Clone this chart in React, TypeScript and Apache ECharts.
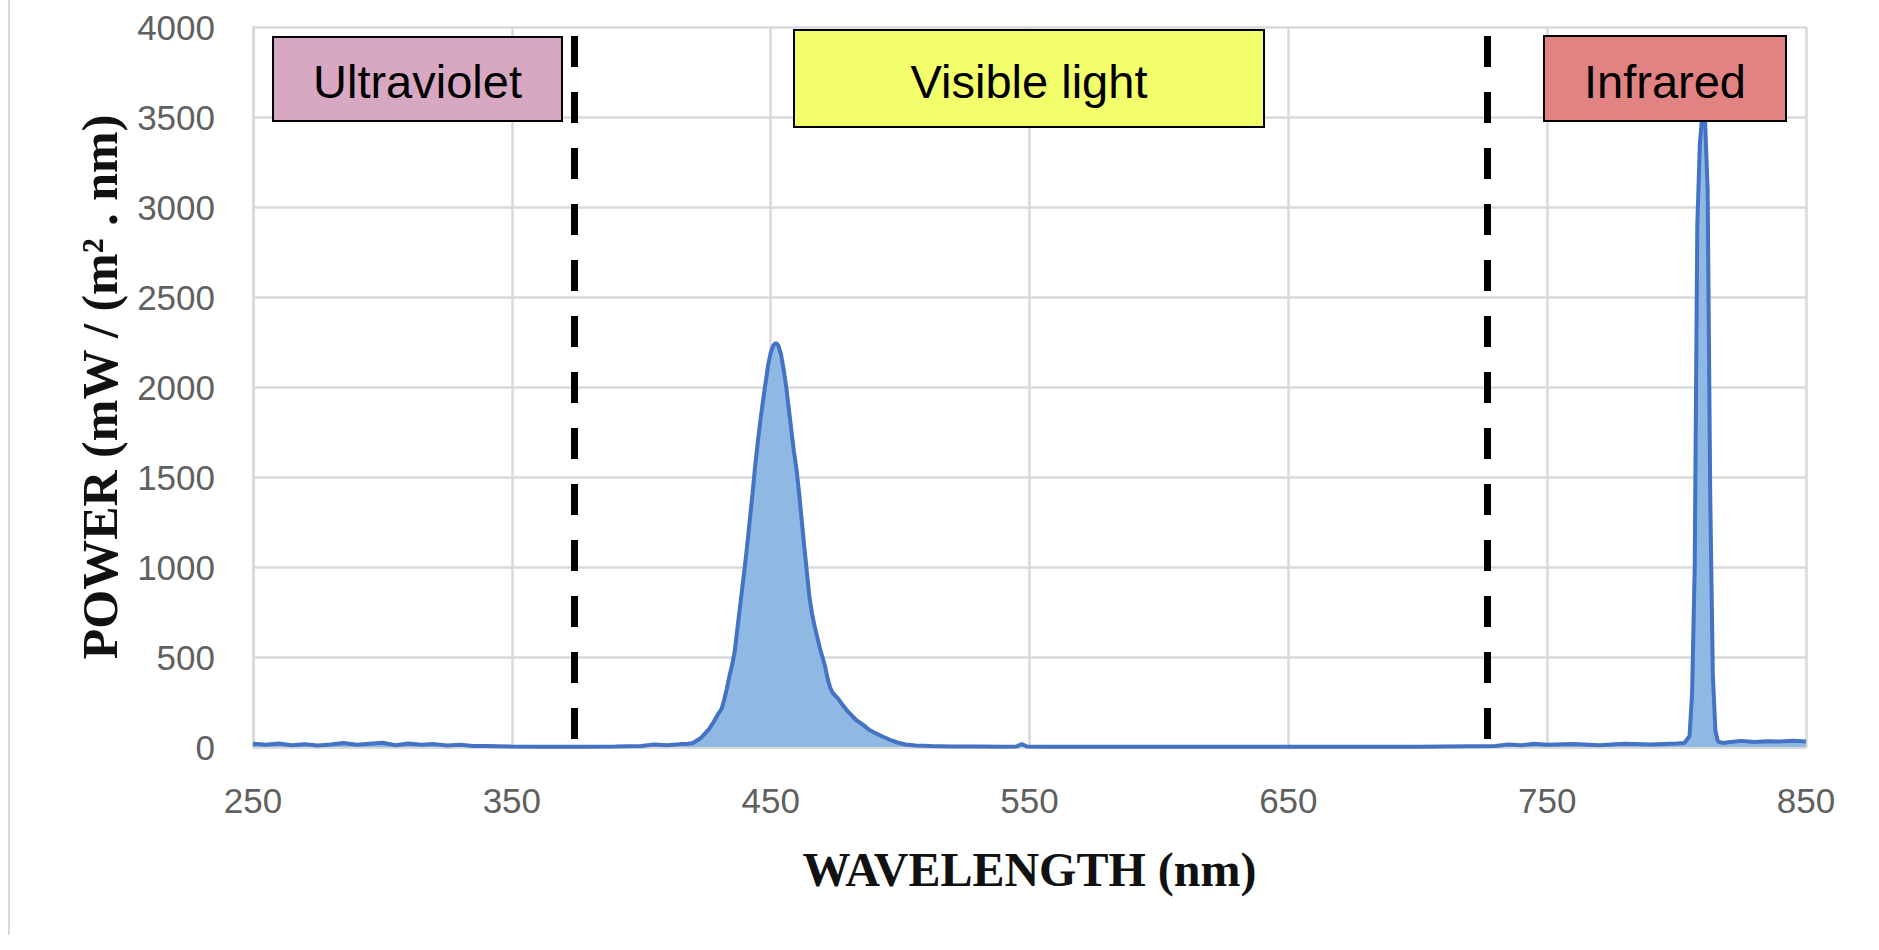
import React, { useEffect, useRef } from "react";
import * as echarts from "echarts";

// ---- data ----
const wavelengthNm = [
  250, 255, 260, 265, 270, 275, 280, 285, 290, 295,
  300, 305, 310, 315, 320, 325, 330, 335, 340, 350,
  360, 370, 380, 390, 400, 405, 410, 415, 418,
  420, 423, 426, 428, 430, 431, 432, 433, 434, 435,
  436, 437, 438, 439, 440, 441, 442, 443, 444, 445,
  446, 447, 448, 449, 450, 451, 452, 453, 454, 455,
  456, 457, 458, 459, 460, 461, 462, 463, 464, 465,
  466, 467, 468, 469, 470, 471, 472, 473, 474, 476,
  478, 480, 483, 486, 488, 490, 493, 496, 499, 502,
  506, 512, 520, 530, 540, 545, 547, 549, 555, 570,
  600, 650, 700, 730, 735, 740, 745, 750, 760, 770,
  780, 790, 800, 803, 805, 806, 807, 808, 809, 810,
  811, 812, 813, 814, 815, 816, 818, 820, 825, 830,
  835, 840, 845, 850,
];
const powerValues = [
  18, 12, 20, 10, 15, 8, 14, 22, 12, 18,
  24, 10, 20, 12, 16, 8, 12, 6, 5, 3,
  2, 2, 2, 3, 6, 14, 10, 16, 18,
  22, 50, 96, 140, 190, 210, 260, 320, 390, 450,
  520, 640, 760, 880, 1000, 1130, 1270, 1410, 1560, 1690,
  1810, 1920, 2020, 2120, 2190, 2230, 2245, 2230, 2180, 2100,
  2000, 1880, 1760, 1640, 1540, 1410, 1260, 1110, 970, 830,
  740, 670, 610, 550, 500, 450, 380, 330, 300, 270,
  230, 195, 150, 120, 96, 80, 60, 40, 25, 14,
  8, 5, 3, 3, 2, 3, 16, 3, 2, 2,
  2, 2, 2, 6, 14, 10, 18, 12, 16, 10,
  18, 14, 20, 22, 60, 300, 1000, 2900, 3350, 3530,
  3480, 3100, 1400, 400, 90, 30, 22, 26, 34, 28,
  32, 30, 35, 30,
];
const xTickRange = [250, 850, 100]; // min, max, step
const yTickRange = [0, 4000, 500]; // min, max, step
const regionBoundariesNm = [374, 727];
const regionLabels = ["Ultraviolet", "Visible light", "Infrared"];
const regionColors = ["#d8a7c1", "#f3fe6b", "#e28383"];
const xAxisTitle = "WAVELENGTH (nm)";
const yAxisTitle = "POWER (mW / (m\u00B2 . nm)";

// ---- layout (pixels) for the annotation boxes ----
const boxLayout = [
  { x: 273, y: 37, w: 289, h: 84 },
  { x: 794, y: 30, w: 470, h: 97 },
  { x: 1544, y: 36, w: 242, h: 85 },
];

export default function App() {
  const ref = useRef<HTMLDivElement | null>(null);

  useEffect(() => {
    if (!ref.current) return;
    const chart = echarts.init(ref.current, null, { renderer: "svg" });
    const seriesData = wavelengthNm.map((w, i) => [w, powerValues[i]]);
    const gridColor = "#d9d9d9";
    const labelFont = "'Liberation Sans', Arial, sans-serif";
    const titleFont = "'Liberation Serif', 'Times New Roman', serif";

    const graphics: any[] = [
      {
        type: "line",
        shape: { x1: 9, y1: 0, x2: 9, y2: 935 },
        style: { stroke: "#d9d9d9", lineWidth: 2 },
        z: 1,
      },
    ];
    boxLayout.forEach((b, i) => {
      graphics.push({
        type: "rect",
        shape: { x: b.x, y: b.y, width: b.w, height: b.h },
        style: { fill: regionColors[i], stroke: "#000", lineWidth: 2 },
        z: 100,
      });
      graphics.push({
        type: "text",
        x: b.x + b.w / 2,
        y: 81,
        style: {
          text: regionLabels[i],
          align: "center",
          verticalAlign: "middle",
          fill: "#000",
          fontSize: 47,
          fontFamily: labelFont,
        },
        z: 101,
      });
    });

    chart.setOption({
      animation: false,
      backgroundColor: "#ffffff",
      grid: { left: 253, right: 73, top: 27, bottom: 203, containLabel: false },
      xAxis: {
        type: "value",
        min: xTickRange[0],
        max: xTickRange[1],
        interval: xTickRange[2],
        name: xAxisTitle,
        nameLocation: "middle",
        nameGap: 98,
        nameTextStyle: {
          fontFamily: titleFont,
          fontWeight: "bold",
          fontSize: 48,
          color: "#111",
        },
        axisLine: { show: true, lineStyle: { color: gridColor, width: 2.5 } },
        axisTick: { show: false },
        splitLine: { show: true, lineStyle: { color: gridColor, width: 2.5 } },
        axisLabel: {
          fontSize: 35,
          color: "#606060",
          fontFamily: labelFont,
          margin: 36,
          formatter: (v: number) => String(v),
        },
      },
      yAxis: {
        type: "value",
        min: yTickRange[0],
        max: yTickRange[1],
        interval: yTickRange[2],
        name: yAxisTitle,
        nameLocation: "middle",
        nameGap: 128,
        nameTextStyle: {
          fontFamily: titleFont,
          fontWeight: "bold",
          fontSize: 50,
          color: "#111",
        },
        axisLine: { show: true, lineStyle: { color: gridColor, width: 2.5 } },
        axisTick: { show: false },
        splitLine: { show: true, lineStyle: { color: gridColor, width: 2.5 } },
        axisLabel: {
          fontSize: 35,
          color: "#606060",
          fontFamily: labelFont,
          margin: 38,
          formatter: (v: number) => String(v),
        },
      },
      series: [
        {
          type: "line",
          data: seriesData,
          showSymbol: false,
          symbol: "none",
          smooth: false,
          lineStyle: { color: "#4472c4", width: 4 },
          areaStyle: { color: "#8fb9e2", opacity: 1 },
          z: 3,
          markLine: {
            silent: true,
            symbol: ["none", "none"],
            label: { show: false },
            lineStyle: {
              color: "#000",
              width: 7,
              type: [31, 25],
              dashOffset: 48,
            },
            data: regionBoundariesNm.map((v) => ({ xAxis: v })),
          },
        },
      ],
      graphic: graphics,
    });

    return () => {
      chart.dispose();
    };
  }, []);

  return (
    <div
      ref={ref}
      style={{
        position: "fixed",
        left: 0,
        top: 0,
        width: 1879,
        height: 950,
        background: "#fff",
      }}
    />
  );
}
